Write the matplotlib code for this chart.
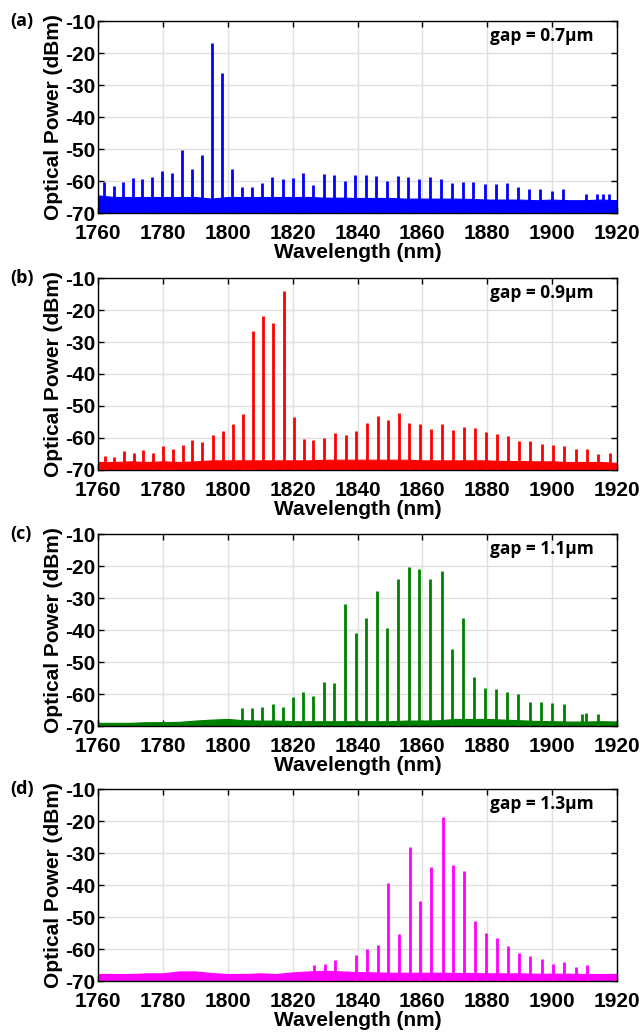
import matplotlib
matplotlib.use('Agg')
import matplotlib.pyplot as plt

# comb lines (wavelength in nm, peak power in dBm)
wl_a = [1761.8, 1764.8, 1767.8, 1770.8, 1773.7, 1776.7, 1779.8, 1782.9, 1785.9, 1789.0,
        1792.1, 1795.1, 1798.3, 1801.3, 1804.4, 1807.5, 1810.7, 1813.7, 1816.9, 1820.1,
        1823.2, 1826.3, 1829.6, 1832.8, 1836.1, 1839.3, 1842.6, 1845.8, 1849.2, 1852.4,
        1855.7, 1859.1, 1862.4, 1865.8, 1869.1, 1872.4, 1875.7, 1879.2, 1882.6, 1886.1,
        1889.5, 1892.9, 1896.4, 1899.9, 1903.4, 1910.4, 1913.8, 1915.6, 1917.5]
pw_a = [-60.4, -61.5, -60.3, -59.1, -59.3, -58.6, -56.8, -57.6, -50.4, -56.1,
        -51.9, -16.8, -26.2, -56.1, -62.0, -62.0, -60.5, -58.9, -59.3, -59.1,
        -57.6, -61.1, -57.7, -58.0, -60.0, -58.0, -58.0, -58.5, -60.0, -58.3,
        -58.8, -59.5, -58.8, -59.5, -60.5, -60.3, -60.2, -61.0, -61.0, -60.7,
        -62.0, -62.5, -62.5, -63.0, -62.5, -64.0, -64.0, -64.0, -64.0]

wl_b = [1762.2, 1765.0, 1767.9, 1771.0, 1774.0, 1777.0, 1780.1, 1783.0, 1786.1, 1789.1,
        1792.2, 1795.3, 1798.4, 1801.6, 1804.7, 1807.7, 1810.9, 1814.0, 1817.2, 1820.4,
        1823.5, 1826.3, 1829.8, 1833.1, 1836.4, 1839.6, 1843.0, 1846.2, 1849.5, 1852.7,
        1856.0, 1859.3, 1862.7, 1866.1, 1869.4, 1872.7, 1876.1, 1879.5, 1882.9, 1886.4,
        1889.8, 1893.3, 1896.8, 1900.2, 1903.7, 1907.2, 1910.7, 1914.2, 1917.7]
pw_b = [-65.5, -65.8, -64.0, -64.8, -63.7, -64.6, -62.5, -63.5, -62.3, -60.6,
        -61.3, -59.0, -57.8, -55.7, -52.4, -26.5, -21.8, -24.2, -14.2, -53.5,
        -60.2, -60.6, -60.1, -58.4, -59.1, -57.8, -55.2, -53.1, -54.4, -52.3,
        -55.4, -55.5, -57.3, -55.7, -57.5, -56.7, -57.0, -58.2, -58.9, -59.4,
        -60.8, -60.9, -61.8, -62.1, -62.6, -63.3, -63.5, -65.0, -64.6]

wl_c = [1804.4, 1807.6, 1810.7, 1813.8, 1817.0, 1820.1, 1823.3, 1826.3, 1829.6, 1832.9,
        1836.2, 1839.4, 1842.7, 1846.0, 1849.2, 1852.5, 1855.8, 1859.1, 1862.4, 1865.9,
        1869.2, 1872.5, 1875.9, 1879.3, 1882.7, 1886.2, 1889.6, 1893.1, 1896.6, 1900.0,
        1903.5, 1909.1, 1910.3, 1914.0]
pw_c = [-64.5, -64.3, -64.0, -63.0, -64.1, -61.0, -59.5, -60.5, -56.3, -56.7,
        -32.0, -40.8, -36.1, -27.8, -39.4, -24.1, -20.4, -20.8, -24.2, -21.7,
        -45.8, -36.3, -54.6, -58.1, -58.3, -59.3, -59.9, -62.4, -62.6, -62.8,
        -63.2, -66.1, -66.0, -66.3]

wl_d = [1830.0, 1826.6, 1833.1, 1839.5, 1843.0, 1846.2, 1849.5, 1852.8, 1856.1, 1859.4,
        1862.8, 1866.2, 1869.5, 1872.8, 1876.1, 1879.5, 1882.9, 1886.4, 1889.8, 1893.3,
        1896.8, 1900.2, 1903.7, 1907.2, 1910.7]
pw_d = [-64.7, -65.0, -63.4, -61.9, -60.0, -58.8, -39.4, -55.2, -28.2, -45.1,
        -34.3, -18.6, -33.6, -35.7, -51.1, -54.9, -56.7, -59.2, -61.1, -62.3,
        -63.1, -64.6, -64.1, -65.5, -64.9]

# top of the noise floor, sampled every 5 nm from 1760 to 1920
floor_wl = list(range(1760, 1925, 5))
floor_a = [-64.5, -65.0, -65.0, -65.0, -65.0, -65.0, -65.0, -65.5, -65.0, -65.0, -65.0,
           -65.0, -65.0, -65.0, -65.2, -65.2, -65.3, -65.3, -65.3, -65.5, -65.5, -65.5,
           -65.5, -65.6, -65.8, -65.8, -65.8, -66.0, -65.8, -66.0, -66.0, -65.8, -66.0]
floor_b = [-67.5, -67.5, -67.3, -67.5, -67.3, -67.5, -67.3, -67.0, -67.0, -67.0, -67.0,
           -67.0, -67.0, -67.0, -66.8, -66.8, -66.8, -66.8, -66.8, -66.8, -67.0, -67.0,
           -67.0, -67.0, -67.0, -67.2, -67.2, -67.3, -67.3, -67.5, -67.5, -67.5, -67.8]
floor_c = [-69.0, -69.0, -69.0, -68.8, -68.8, -68.7, -68.3, -68.0, -67.8, -68.2, -68.3,
           -68.3, -68.5, -68.5, -68.5, -68.5, -68.5, -68.5, -68.5, -68.3, -68.3, -68.2,
           -67.8, -67.8, -67.8, -68.0, -68.2, -68.4, -68.5, -68.6, -68.6, -68.5, -68.6]
floor_d = [-67.8, -67.8, -67.8, -67.6, -67.6, -67.0, -67.0, -67.5, -67.8, -67.8, -67.6,
           -67.8, -67.3, -67.0, -66.8, -67.0, -67.2, -67.3, -67.4, -67.4, -67.4, -67.4,
           -67.5, -67.5, -67.6, -67.6, -67.6, -67.7, -67.7, -67.7, -67.8, -67.8, -67.8]

panels = [('(a)', 'gap = 0.7μm', wl_a, pw_a, floor_a, '#0000ff'),
          ('(b)', 'gap = 0.9μm', wl_b, pw_b, floor_b, '#ff0000'),
          ('(c)', 'gap = 1.1μm', wl_c, pw_c, floor_c, '#008000'),
          ('(d)', 'gap = 1.3μm', wl_d, pw_d, floor_d, '#ff00ff')]

xticks = [1760, 1780, 1800, 1820, 1840, 1860, 1880, 1900, 1920]
yticks = [-70, -60, -50, -40, -30, -20, -10]

tick_font = 'Liberation Sans'
label_font = 'Open Sans'
fs = 15

fig = plt.figure(figsize=(6.42, 10.32), dpi=100)
bottoms = [0.7936, 0.5446, 0.2965, 0.0494]

for (tag, gap, wl, pw, floor, col), bot in zip(panels, bottoms):
    ax = fig.add_axes([0.1527, bot, 0.8084, 0.186])
    ax.fill_between(floor_wl, -70, floor, color=col, lw=0.8, zorder=2)
    ax.vlines(wl, -70, pw, color=col, lw=2.0, zorder=3)
    ax.set_xlim(1760, 1920)
    ax.set_ylim(-70, -10)
    ax.set_xticks(xticks)
    ax.set_yticks(yticks)
    ax.set_xticklabels([str(t) for t in xticks], fontfamily=tick_font,
                       fontweight='bold', fontsize=fs)
    ax.set_yticklabels([str(t) for t in yticks], fontfamily=tick_font,
                       fontweight='bold', fontsize=fs)
    ax.grid(True, color='#e0e0e0', lw=1.0, zorder=0)
    ax.set_axisbelow(True)
    ax.tick_params(direction='in', top=True, right=True, length=4, width=1)
    ax.tick_params(axis='x', pad=8)
    ax.tick_params(axis='y', pad=2)
    for s in ax.spines.values():
        s.set_linewidth(1.0)
    ax.set_xlabel('Wavelength (nm)', fontfamily=tick_font, fontweight='bold',
                  fontsize=fs, labelpad=0)
    ax.set_ylabel('Optical Power (dBm)', fontfamily=tick_font, fontweight='bold',
                  fontsize=fs, labelpad=1)
    ax.text(0.955, 0.92, gap, transform=ax.transAxes, ha='right', va='center',
            fontfamily=label_font, fontweight='bold', fontsize=12.5)
    ax.text(-0.17, 1.0, tag, transform=ax.transAxes, ha='left', va='center',
            fontfamily=label_font, fontweight='bold', fontsize=13)

fig.savefig('out.png', dpi=100)
